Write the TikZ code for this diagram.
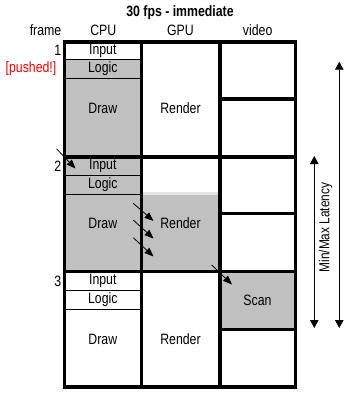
\documentclass[tikz,border=0pt]{standalone}
\usepackage{fontspec}
\newfontfamily\lab[FakeStretch=0.82]{Liberation Sans}
\usetikzlibrary{arrows.meta}
\definecolor{cellgray}{HTML}{C0C0C0}
\definecolor{edgegray}{HTML}{E4E4E4}
\definecolor{pushred}{HTML}{FF0000}
\begin{document}
\begin{tikzpicture}[x=1pt,y=-1pt,
  grid/.style={line width=3.6pt},
  thinline/.style={line width=0.9pt},
  lbl/.style={font=\lab\fontsize{15}{17}\selectfont, inner sep=0pt},
  ttl/.style={font=\lab\bfseries\fontsize{15}{17}\selectfont, inner sep=0pt},
  pusharrow/.style={line width=0.8pt, -{Triangle[length=9pt,width=7pt]}},
  latarrow/.style={line width=0.8pt, {Triangle[length=8pt,width=8.5pt]}-{Triangle[length=8pt,width=8.5pt]}}
]
\useasboundingbox (0,0) rectangle (350,397);
% fills
\fill[cellgray] (64.3,59.3) rectangle (141.3,156.7);
\fill[cellgray] (64.3,156.7) rectangle (141.3,271.3);
\fill[cellgray] (141.3,194) rectangle (219.7,271.3);
\fill[edgegray] (143,192.3) rectangle (218,195);
\fill[cellgray] (219.7,271.3) rectangle (295.3,329.3);
% thin CPU row lines
\foreach \yy in {59.3,78.7,175.3,194,290.7,309.3}
  \draw[thinline] (64.3,\yy) -- (141.3,\yy);
% thick grid
\draw[grid] (64.3,42) rectangle (295.3,387);
\draw[grid] (141.3,42) -- (141.3,387);
\draw[grid] (219.7,42) -- (219.7,387);
\draw[grid] (64.3,156.7) -- (295.3,156.7);
\draw[grid] (64.3,271.3) -- (295.3,271.3);
\foreach \yy in {99,213.3,329.3}
  \draw[grid] (219.7,\yy) -- (295.3,\yy);
% header
\node[ttl] (title) at (180,12.5) {30 fps - immediate};
\node[lbl] (hframe) at (45.5,30) {frame};
\node[lbl] (hcpu) at (103.3,30) {CPU};
\node[lbl] (hgpu) at (180.5,30) {GPU};
\node[lbl] (hvideo) at (257.7,30) {video};
% frame numbers
\node[lbl, anchor=east] (f1) at (61.5,50.7) {1};
\node[lbl, anchor=east, text=pushred] (pushed) at (56.5,69) {[pushed!]};
\node[lbl, anchor=east] (f2) at (61.5,166) {2};
\node[lbl, anchor=east] (f3) at (61.5,281) {3};
% cells frame 1
\node[lbl] (input1) at (102.8,50.7) {Input};
\node[lbl] (logic1) at (102.8,69) {Logic};
\node[lbl] (draw1) at (102.8,108.3) {Draw};
\node[lbl] (render1) at (180.5,108.3) {Render};
% cells frame 2
\node[lbl] (input2) at (102.8,166) {Input};
\node[lbl] (logic2) at (102.8,184.7) {Logic};
\node[lbl] (draw2) at (102.8,223) {Draw};
\node[lbl] (render2) at (180.5,223) {Render};
% cells frame 3
\node[lbl] (input3) at (102.8,281) {Input};
\node[lbl] (logic3) at (102.8,300) {Logic};
\node[lbl] (draw3) at (102.8,339) {Draw};
\node[lbl] (render3) at (180.5,339) {Render};
\node[lbl] (scan) at (257.5,300.3) {Scan};
% small arrows
\coordinate (a1s) at (56.7,149);   \coordinate (a1e) at (75.5,168.5);
\coordinate (r1s) at (133.3,203.3); \coordinate (r1e) at (153.5,221);
\coordinate (r2s) at (133.3,220);   \coordinate (r2e) at (153.5,238.5);
\coordinate (r3s) at (133.3,237.7); \coordinate (r3e) at (153.5,256.5);
\coordinate (s1s) at (211.7,265);   \coordinate (s1e) at (232,284.5);
\draw[pusharrow] (a1s) -- (a1e);
\draw[pusharrow] (r1s) -- (r1e);
\draw[pusharrow] (r2s) -- (r2e);
\draw[pusharrow] (r3s) -- (r3e);
\draw[pusharrow] (s1s) -- (s1e);
% latency arrows
\coordinate (maxtop) at (339.3,61.7); \coordinate (maxbot) at (339.3,328);
\coordinate (mintop) at (314.3,156);  \coordinate (minbot) at (314.3,328);
\draw[latarrow] (maxtop) -- (maxbot);
\draw[latarrow] (mintop) -- (minbot);
\node[lbl, font=\lab\fontsize{14.5}{16}\selectfont, rotate=90] (latency) at (325.5,227.5) {Min/Max Latency};
\end{tikzpicture}
\end{document}
